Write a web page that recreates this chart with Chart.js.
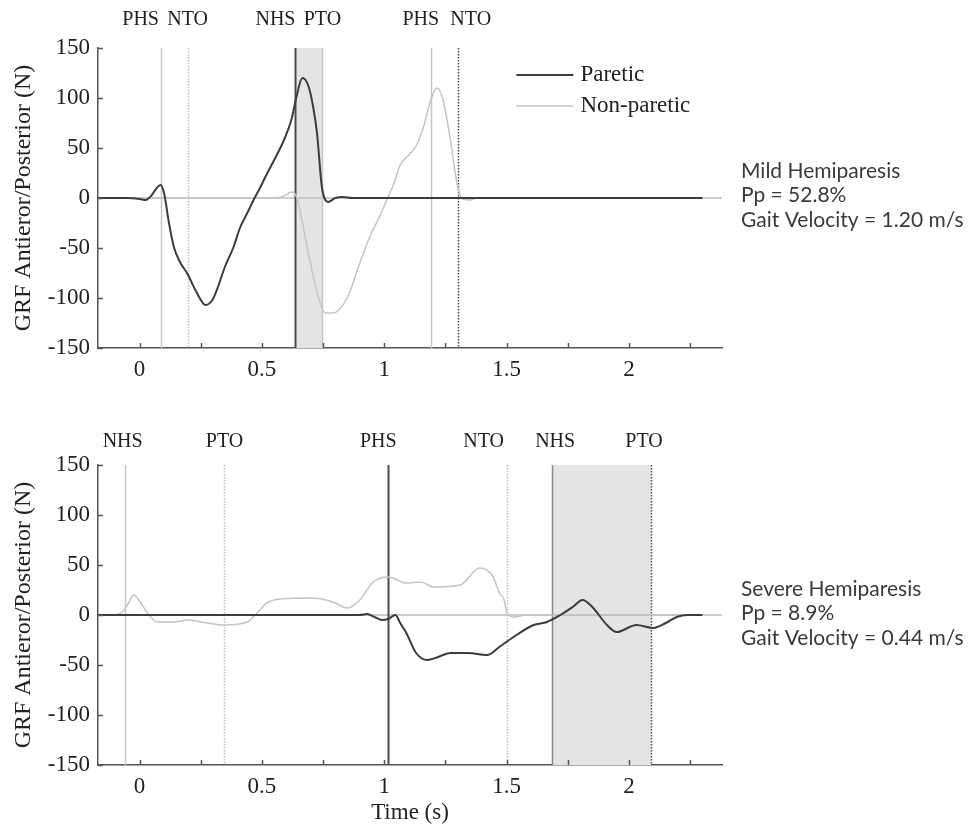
<!DOCTYPE html>
<html>
<head>
<meta charset="utf-8">
<script src="https://cdn.jsdelivr.net/npm/chart.js@4.4.0/dist/chart.umd.min.js"></script>
<style>
  body { margin: 0; background: #fff; }
  canvas { position: absolute; left: 0; }
  #mild { top: 0; }
  #severe { top: 415px; }
</style>
</head>
<body>
<canvas id="mild" width="978" height="415"></canvas>
<canvas id="severe" width="978" height="414"></canvas>
<script>
// tick values
var xTicks = [0, 0.25, 0.5, 0.75, 1, 1.25, 1.5, 1.75, 2, 2.25];
var yTicks = [-150, -100, -50, 0, 50, 100, 150];

// mild hemiparesis
var mildParT = [-0.17, -0.05, 0.0, 0.025, 0.05, 0.07, 0.086, 0.10, 0.12, 0.14, 0.165, 0.196, 0.23, 0.27, 0.30, 0.32, 0.35, 0.384, 0.41, 0.44, 0.47, 0.494, 0.52, 0.55, 0.59, 0.62, 0.64, 0.665, 0.69, 0.71, 0.725, 0.745, 0.77, 0.80, 0.83, 0.87, 2.3];
var mildParF = [0, 0, -1, -2, 3, 10, 13, 5, -25, -49, -64, -76, -93, -107, -101, -89, -68, -49, -30, -15, 0, 11, 24, 38, 58, 78, 100, 120, 112, 90, 65, 11, -4, 0, 1, 0, 0];
var mildNonT = [-0.17, 0.55, 0.59, 0.62, 0.64, 0.657, 0.698, 0.73, 0.76, 0.79, 0.85, 0.90, 0.94, 0.98, 1.01, 1.04, 1.065, 1.10, 1.13, 1.16, 1.19, 1.215, 1.24, 1.27, 1.30, 1.32, 1.35, 1.38, 2.3];
var mildNonF = [0, 0, 2, 6, 2, -15, -65, -99, -115, -115, -99, -65, -39, -19, -2, 15, 33, 43, 52, 71, 98, 110, 98, 58, 11, -1, -2, 0, 0];
var mildEvents = [0.086, 0.196, 0.637, 0.747, 1.19, 1.30];
var mildEventNames = ['PHS', 'NTO', 'NHS', 'PTO', 'PHS', 'NTO'];
var mildShade = [0.637, 0.747];
var mildNote = ['Mild Hemiparesis', 'Pp = 52.8%', 'Gait Velocity = 1.20 m/s'];

// severe hemiparesis
var sevParT = [-0.17, 0.9, 0.93, 0.96, 0.99, 1.016, 1.045, 1.065, 1.09, 1.13, 1.175, 1.22, 1.27, 1.34, 1.42, 1.47, 1.54, 1.61, 1.665, 1.72, 1.77, 1.81, 1.85, 1.91, 1.95, 2.03, 2.10, 2.15, 2.195, 2.24, 2.3];
var sevParF = [0, 0, 1, -2, -5, -4, 0, -8, -18, -38, -45, -42, -38, -38, -40, -32, -20, -10, -7, 0, 8, 15, 8, -10, -17, -10, -13, -8, -2, 0, 0];
var sevNonT = [-0.17, -0.12, -0.07, -0.045, -0.024, 0.0, 0.032, 0.073, 0.14, 0.196, 0.277, 0.343, 0.44, 0.48, 0.52, 0.575, 0.71, 0.79, 0.85, 0.90, 0.955, 1.016, 1.09, 1.15, 1.20, 1.31, 1.39, 1.445, 1.47, 1.49, 1.50, 1.53, 1.58, 2.3];
var sevNonF = [0, 0, 3, 12, 20, 14, 2, -7, -7, -5, -8, -10, -7, 2, 12, 16, 17, 13, 7, 15, 33, 38, 32, 33, 28, 30, 47, 38, 22, 15, 3, -2, 0, 0];
var sevEvents = [-0.061, 0.343, 1.016, 1.50, 1.686, 2.09];
var sevEventNames = ['NHS', 'PTO', 'PHS', 'NTO', 'NHS', 'PTO'];
var sevShade = [1.686, 2.09];
var sevNote = ['Severe Hemiparesis', 'Pp = 8.9%', 'Gait Velocity = 0.44 m/s'];

var serif = 'Liberation Serif';
var dark = '#3c3c3c';
var light = '#c4c4c4';
var lineKinds = {
    light: { c: '#c6c6c6', w: 1.5, d: [] },
    lightDot: { c: '#c0c0c0', w: 1.5, d: [1.5, 1.5] },
    mid: { c: '#8a8a8a', w: 1.5, d: [] },
    dark: { c: '#4a4a4a', w: 2, d: [] },
    darkDot: { c: '#4a4a4a', w: 1.5, d: [1.5, 1.5] }
};

function toPoints(t, f) {
    return t.map(function (v, i) { return { x: v, y: f[i] }; });
}

var gaitPlugin = {
    id: 'gait',
    beforeDatasetsDraw: function (chart, args, opts) {
        var ctx = chart.ctx, xs = chart.scales.x, ys = chart.scales.y, area = chart.chartArea;
        ctx.save();
        var s0 = xs.getPixelForValue(opts.shade[0]), s1 = xs.getPixelForValue(opts.shade[1]);
        ctx.fillStyle = '#e4e4e4';
        ctx.fillRect(s0, area.top, s1 - s0, area.bottom - area.top);

        var z = ys.getPixelForValue(0);
        ctx.strokeStyle = '#bdbdbd';
        ctx.lineWidth = 1.5;
        ctx.beginPath();
        ctx.moveTo(area.left, z);
        ctx.lineTo(area.right, z);
        ctx.stroke();

        opts.events.forEach(function (t, i) {
            var k = lineKinds[opts.kinds[i]];
            var px = Math.round(xs.getPixelForValue(t)) + 0.5;
            ctx.strokeStyle = k.c;
            ctx.lineWidth = k.w;
            ctx.setLineDash(k.d);
            ctx.beginPath();
            ctx.moveTo(px, area.top);
            ctx.lineTo(px, area.bottom);
            ctx.stroke();
        });
        ctx.restore();
    },
    afterDraw: function (chart, args, opts) {
        var ctx = chart.ctx, xs = chart.scales.x, ys = chart.scales.y, area = chart.chartArea;
        ctx.save();
        // inward tick marks
        ctx.strokeStyle = '#555';
        ctx.lineWidth = 1.5;
        xTicks.forEach(function (v) {
            var px = Math.round(xs.getPixelForValue(v)) + 0.5;
            ctx.beginPath();
            ctx.moveTo(px, area.bottom);
            ctx.lineTo(px, area.bottom - 5);
            ctx.stroke();
        });
        yTicks.forEach(function (v) {
            var py = Math.round(ys.getPixelForValue(v)) + 0.5;
            ctx.beginPath();
            ctx.moveTo(area.left, py);
            ctx.lineTo(area.left + 5, py);
            ctx.stroke();
        });

        // event labels
        ctx.fillStyle = '#222';
        ctx.font = '20px "' + serif + '"';
        ctx.textAlign = 'center';
        ctx.textBaseline = 'middle';
        opts.events.forEach(function (t, i) {
            ctx.fillText(opts.names[i], xs.getPixelForValue(t) + opts.shift[i], area.top - opts.labelGap);
        });

        // legend
        if (opts.legend) {
            var lx = xs.getPixelForValue(opts.legend.at[0]), ly = ys.getPixelForValue(opts.legend.at[1]);
            chart.data.datasets.forEach(function (ds, i) {
                var y = ly + i * 31;
                ctx.strokeStyle = ds.borderColor;
                ctx.lineWidth = ds.borderWidth;
                ctx.beginPath();
                ctx.moveTo(lx, y);
                ctx.lineTo(lx + 57, y);
                ctx.stroke();
                ctx.font = '23px "' + serif + '"';
                ctx.textAlign = 'left';
                ctx.fillStyle = '#222';
                ctx.fillText(ds.label, lx + 64, y);
            });
        }

        // side note, sized so the longest line spans about 231px
        ctx.font = '18px Lato';
        var widest = Math.max.apply(null, opts.note.map(function (s) { return ctx.measureText(s).width; }));
        var size = Math.min(21, 18 * 231 / widest);
        ctx.font = size.toFixed(1) + 'px Lato';
        ctx.textAlign = 'left';
        ctx.textBaseline = 'middle';
        ctx.fillStyle = '#3a3a3a';
        opts.note.forEach(function (s, i) {
            ctx.fillText(s, 741, opts.noteTop + i * 24.5);
        });
        ctx.restore();
    }
};

function makeChart(id, parT, parF, nonT, nonF, extra, fit) {
    return new Chart(document.getElementById(id), {
        type: 'line',
        data: {
            datasets: [{
                label: 'Paretic',
                data: toPoints(parT, parF),
                borderColor: dark,
                borderWidth: 2,
                pointRadius: 0,
                fill: false,
                cubicInterpolationMode: 'monotone'
            }, {
                label: 'Non-paretic',
                data: toPoints(nonT, nonF),
                borderColor: light,
                borderWidth: 1.5,
                pointRadius: 0,
                fill: false,
                cubicInterpolationMode: 'monotone'
            }]
        },
        options: {
            responsive: false,
            animation: false,
            layout: { padding: { top: fit.top, right: 256, bottom: 0, left: 0 } },
            plugins: {
                legend: { display: false },
                tooltip: { enabled: false },
                gait: extra
            },
            scales: {
                x: {
                    type: 'linear',
                    min: -0.17,
                    max: 2.38,
                    afterBuildTicks: function (s) { s.ticks = xTicks.map(function (v) { return { value: v }; }); },
                    afterFit: function (s) { s.height = fit.xh; },
                    ticks: {
                        autoSkip: false,
                        maxRotation: 0,
                        padding: 8,
                        color: '#222',
                        font: { family: serif, size: 23 },
                        callback: function (v) { return Math.abs(v * 2 - Math.round(v * 2)) < 1e-6 ? String(v) : ''; }
                    },
                    grid: { display: false, drawTicks: false },
                    border: { color: '#555', width: 1.5 },
                    title: {
                        display: fit.xTitle,
                        text: 'Time (s)',
                        color: '#222',
                        font: { family: serif, size: 23 },
                        padding: { top: 0, bottom: 2 }
                    }
                },
                y: {
                    min: -150,
                    max: 150,
                    afterBuildTicks: function (s) { s.ticks = yTicks.map(function (v) { return { value: v }; }); },
                    afterFit: function (s) { s.width = 98; },
                    ticks: {
                        padding: 8,
                        color: '#222',
                        font: { family: serif, size: 23 }
                    },
                    grid: { display: false, drawTicks: false },
                    border: { color: '#555', width: 1.5 },
                    title: {
                        display: true,
                        text: 'GRF Antieror/Posterior (N)',
                        color: '#222',
                        font: { family: serif, size: 24 },
                        padding: { top: 9, bottom: 0 }
                    }
                }
            }
        },
        plugins: [gaitPlugin]
    });
}

makeChart('mild', mildParT, mildParF, mildNonT, mildNonF, {
    events: mildEvents,
    names: mildEventNames,
    shade: mildShade,
    kinds: ['light', 'lightDot', 'dark', 'light', 'light', 'darkDot'],
    shift: [-20, 0, -20, 0, -10, 13],
    labelGap: 28,
    legend: { at: [1.54, 123] },
    note: mildNote,
    noteTop: 171
}, { top: 48, xh: 67, xTitle: false });

makeChart('severe', sevParT, sevParF, sevNonT, sevNonF, {
    events: sevEvents,
    names: sevEventNames,
    shade: sevShade,
    kinds: ['light', 'lightDot', 'dark', 'lightDot', 'mid', 'darkDot'],
    shift: [-2, 1, -10, -23, 3, -7],
    labelGap: 23,
    legend: null,
    note: sevNote,
    noteTop: 174
}, { top: 50, xh: 64, xTitle: true });
</script>
</body>
</html>
